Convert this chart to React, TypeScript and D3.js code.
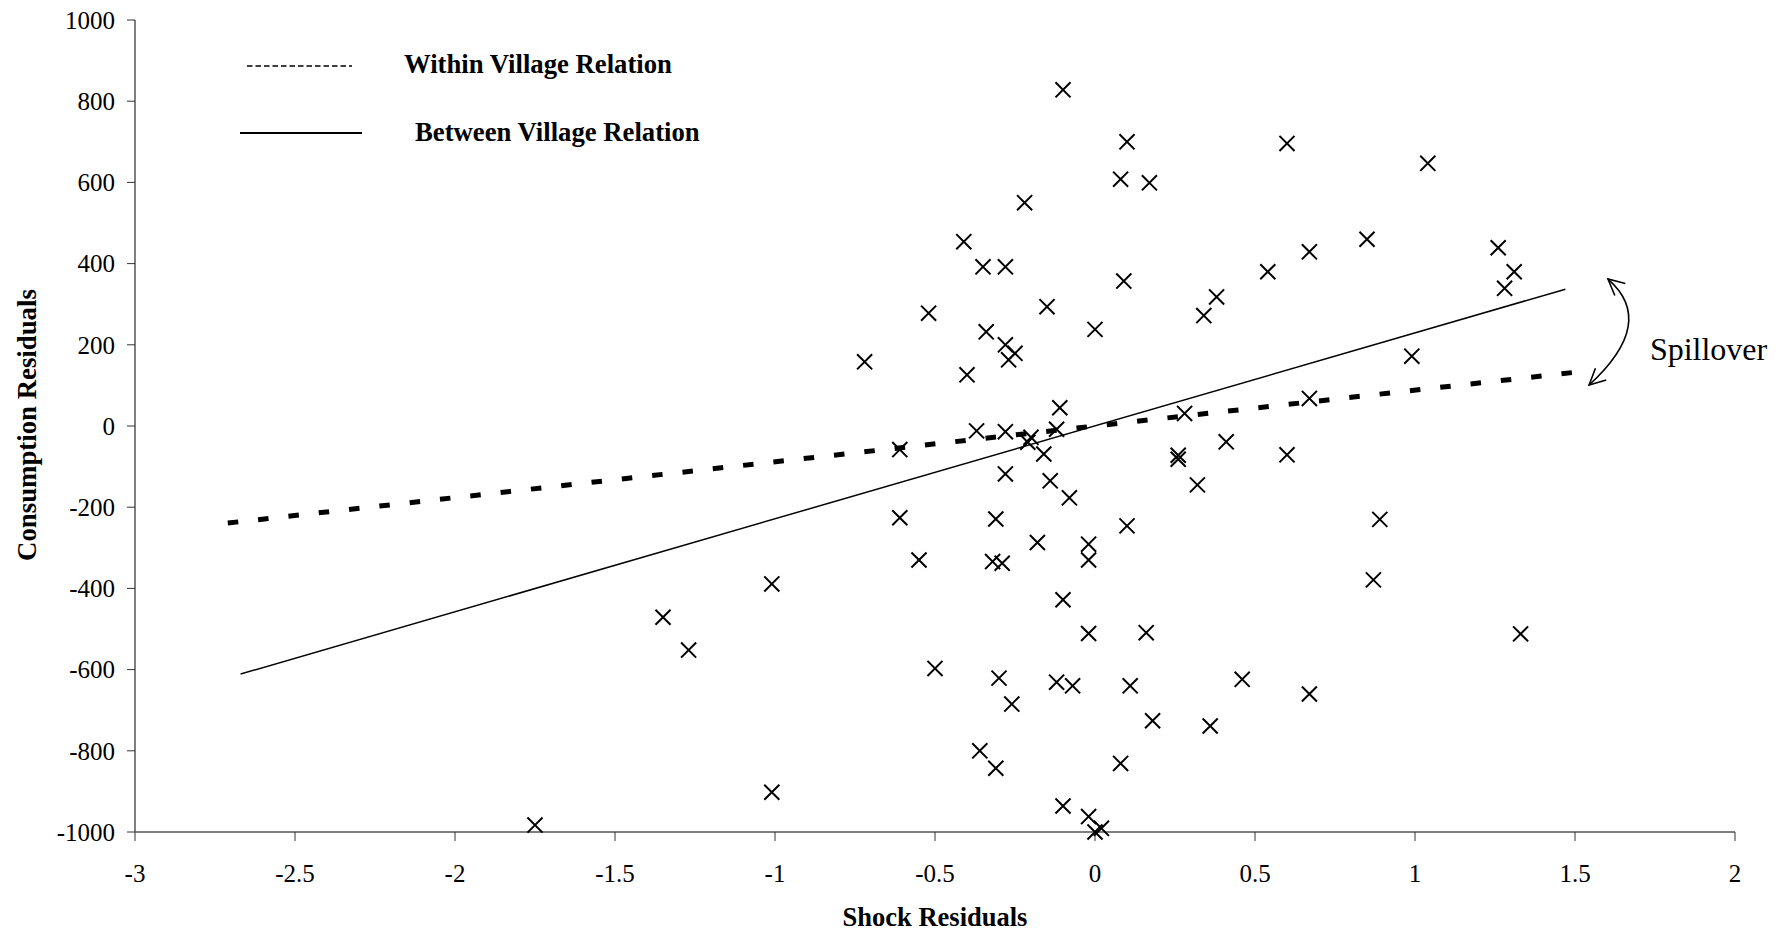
import React, { useMemo } from "react";
import * as d3 from "d3";

const W = 1782;
const H = 934;
const FONT = "'Liberation Serif', 'Times New Roman', serif";

// [shock residual, consumption residual]
const villagePoints = [
  [-1.75, -983], [-1.35, -471], [-1.27, -552], [-1.01, -389], [-1.01, -902],
  [-0.72, 158], [-0.61, -58], [-0.61, -226], [-0.55, -330], [-0.52, 278],
  [-0.5, -597], [-0.41, 454], [-0.4, 126], [-0.37, -12], [-0.36, -800],
  [-0.35, 392], [-0.34, 232], [-0.32, -334], [-0.31, -229], [-0.3, -621],
  [-0.31, -843], [-0.29, -338], [-0.28, -14], [-0.28, 392], [-0.28, 200],
  [-0.28, -118], [-0.26, -685], [-0.27, 163], [-0.25, 179], [-0.22, 550],
  [-0.21, -40], [-0.2, -28], [-0.18, -287], [-0.16, -69], [-0.15, 294],
  [-0.14, -135], [-0.12, -8], [-0.12, -631], [-0.11, 45], [-0.1, 828],
  [-0.1, -428], [-0.1, -936], [-0.08, -177], [-0.07, -640], [-0.02, -291],
  [-0.02, -330], [-0.02, -511], [-0.02, -962], [0.0, 238], [0.0, -1000],
  [0.02, -991], [0.08, -831], [0.08, 608], [0.09, 357], [0.1, 700],
  [0.1, -246], [0.11, -640], [0.16, -509], [0.17, 599], [0.18, -726],
  [0.26, -72], [0.26, -82], [0.28, 31], [0.32, -145], [0.34, 272],
  [0.36, -739], [0.38, 318], [0.41, -39], [0.46, -624], [0.54, 380],
  [0.6, 696], [0.6, -71], [0.67, 429], [0.67, 68], [0.67, -660],
  [0.85, 460], [0.87, -379], [0.89, -230], [0.99, 172], [1.04, 647],
  [1.26, 439], [1.28, 339], [1.31, 380], [1.33, -512],
];

// fitted lines: [x, y] endpoints
const withinLine = [[-2.71, -239], [1.53, 135]];
const betweenLine = [[-2.67, -611], [1.47, 337]];

const xTicks = [-3, -2.5, -2, -1.5, -1, -0.5, 0, 0.5, 1, 1.5, 2];
const yTicks = [-1000, -800, -600, -400, -200, 0, 200, 400, 600, 800, 1000];

// spillover arrow in data units: top tip, control, bottom tip, label
const arrowTop = [1.603, 362];
const arrowCtrl = [1.758, 256];
const arrowBottom = [1.544, 101];
const spillLabel = [1.734, 163];

const App = () => {
  const x = useMemo(() => d3.scaleLinear().domain([-3, 2]).range([135, 1735]), []);
  const y = useMemo(() => d3.scaleLinear().domain([-1000, 1000]).range([832, 20]), []);

  const cross = d3.symbol().type(d3.symbolX).size(150)();
  const line = d3.line().x((d) => x(d[0])).y((d) => y(d[1]));

  const arrowPath = `M${x(arrowTop[0])},${y(arrowTop[1])} Q${x(arrowCtrl[0])},${y(arrowCtrl[1])} ${x(arrowBottom[0])},${y(arrowBottom[1])}`;

  return (
    <svg width={W} height={H} style={{ position: "absolute", left: 0, top: 0, background: "#fff" }}>
      <defs>
        <marker id="head" viewBox="0 0 20 20" refX="18" refY="10" markerWidth="20" markerHeight="20" markerUnits="userSpaceOnUse" orient="auto-start-reverse">
          <path d="M2,2 L18,10 L2,18" fill="none" stroke="#000" strokeWidth={1.6} />
        </marker>
      </defs>

      {/* axes */}
      <line x1={x(-3)} x2={x(-3)} y1={y(1000)} y2={y(-1000)} stroke="#555" strokeWidth={1.5} />
      <line x1={x(-3)} x2={x(2)} y1={y(-1000)} y2={y(-1000)} stroke="#555" strokeWidth={1.5} />
      {yTicks.map((t) => (
        <g key={"y" + t}>
          <line x1={x(-3) - 8} x2={x(-3)} y1={y(t)} y2={y(t)} stroke="#333" strokeWidth={1} />
          <text x={x(-3) - 20} y={y(t)} dy="0.35em" textAnchor="end" fontFamily={FONT} fontSize={25}>
            {t}
          </text>
        </g>
      ))}
      {xTicks.map((t) => (
        <g key={"x" + t}>
          <line x1={x(t)} x2={x(t)} y1={y(-1000)} y2={y(-1000) + 9} stroke="#333" strokeWidth={1} />
          <text x={x(t)} y={882} textAnchor="middle" fontFamily={FONT} fontSize={25}>
            {t}
          </text>
        </g>
      ))}

      <text x={935} y={926} textAnchor="middle" fontFamily={FONT} fontSize={26.5} fontWeight="bold">
        Shock Residuals
      </text>
      <text transform={`translate(36, 425) rotate(-90)`} textAnchor="middle" fontFamily={FONT} fontSize={26.8} fontWeight="bold">
        Consumption Residuals
      </text>

      {/* regression lines */}
      <path d={line(betweenLine)} fill="none" stroke="#000" strokeWidth={1.5} />
      <path d={line(withinLine)} fill="none" stroke="#000" strokeWidth={5} strokeDasharray="10.5 20" />

      {/* points */}
      {villagePoints.map((p, i) => (
        <path key={i} d={cross} transform={`translate(${x(p[0])},${y(p[1])})`} fill="none" stroke="#000" strokeWidth={2} />
      ))}

      {/* legend */}
      <line x1={247} x2={352} y1={66} y2={66} stroke="#000" strokeWidth={1.5} strokeDasharray="5.5 3" />
      <text x={404} y={73} fontFamily={FONT} fontSize={26.7} fontWeight="bold">
        Within Village Relation
      </text>
      <line x1={240} x2={362} y1={133} y2={133} stroke="#000" strokeWidth={1.8} />
      <text x={415} y={141} fontFamily={FONT} fontSize={26.7} fontWeight="bold">
        Between Village Relation
      </text>

      {/* spillover annotation */}
      <path d={arrowPath} fill="none" stroke="#000" strokeWidth={1.6} markerStart="url(#head)" markerEnd="url(#head)" />
      <text x={x(spillLabel[0])} y={y(spillLabel[1])} fontFamily={FONT} fontSize={32}>
        Spillover
      </text>
    </svg>
  );
};

export default App;
